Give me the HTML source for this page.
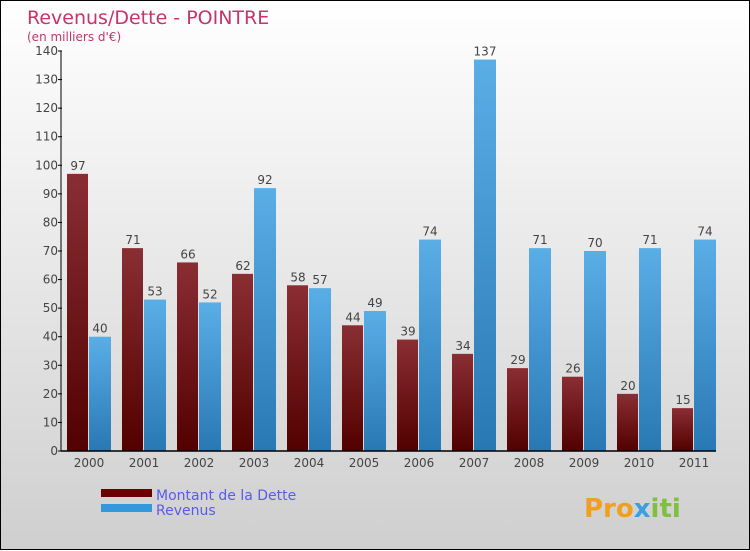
<!DOCTYPE html>
<html><head><meta charset="utf-8"><style>
body{margin:0;width:750px;height:550px;overflow:hidden;font-family:"DejaVu Sans","Liberation Sans",sans-serif;}
#wrap{position:relative;width:748px;height:548px;border:1px solid #000;background:linear-gradient(#ffffff,#cfcfcf);}
svg{position:absolute;left:0;top:0}
</style></head><body>
<div id="wrap">
<svg id="chart" width="750" height="550">
<defs>
<linearGradient id="gd" x1="0" y1="0" x2="0" y2="1"><stop offset="0" stop-color="#8a2e33"/><stop offset="1" stop-color="#520000"/></linearGradient>
<linearGradient id="gr" x1="0" y1="0" x2="0" y2="1"><stop offset="0" stop-color="#5aaee6"/><stop offset="1" stop-color="#2878b4"/></linearGradient>
</defs>
<text x="26" y="23" font-size="19" fill="#c8336a">Revenus/Dette - POINTRE</text>
<text x="26" y="40" font-size="12" fill="#c8336a">(en milliers d'€)</text>
<g id="bars"></g><g id="axes"></g>
<rect x="100" y="488" width="51" height="8" fill="#6a0000"/>
<rect x="100" y="503" width="51" height="8" fill="#3498dc"/>
<text x="155" y="499" font-size="14" fill="#5a5af0">Montant de la Dette</text>
<text x="155" y="514" font-size="14" fill="#5a5af0">Revenus</text>
<text x="583" y="516" font-size="26" font-weight="bold" fill="#f0a020">Pro<tspan fill="#3aa0e0">x</tspan><tspan fill="#80c040">iti</tspan></text>
</svg></div>
<script>
const years=["2000","2001","2002","2003","2004","2005","2006","2007","2008","2009","2010","2011"];
const dette=[97,71,66,62,58,44,39,34,29,26,20,15];
const revenus=[40,53,52,92,57,49,74,137,71,70,71,74];
const ticks=[0,10,20,30,40,50,60,70,80,90,100,110,120,130,140];
const NS="http://www.w3.org/2000/svg";
const y0=450,ppu=400/140,x0=66,step=55,bw=22;
const Y=v=>y0-v*ppu;
function mk(t,a,p){const e=document.createElementNS(NS,t);for(const k in a)e.setAttribute(k,a[k]);p.appendChild(e);return e;}
const bars=document.getElementById('bars'),axes=document.getElementById('axes');
years.forEach((yr,i)=>{
  const xd=x0+i*step,xr=xd+bw;
  let r=mk('rect',{x:xd,y:Y(dette[i]),width:bw-1,height:dette[i]*ppu,fill:'url(#gd)'},bars);
  
  
  let r2=mk('rect',{x:xr,y:Y(revenus[i]),width:bw,height:revenus[i]*ppu,fill:'url(#gr)'},bars);
  
  
  let t=mk('text',{x:xd+bw/2,y:Y(dette[i])-4,'font-size':12,fill:'#444','text-anchor':'middle'},bars);t.textContent=dette[i];
  
  
  let t2=mk('text',{x:xr+bw/2,y:Y(revenus[i])-4,'font-size':12,fill:'#444','text-anchor':'middle'},bars);t2.textContent=revenus[i];
  
  
  let xl=mk('text',{x:xd+bw,y:466,'font-size':12,fill:'#444','text-anchor':'middle'},axes);xl.textContent=yr;
  
  
});
let ya=mk('line',{x1:60,y1:50,x2:60,y2:450,stroke:'#000','stroke-width':1},axes);


let xa=mk('line',{x1:60,y1:450,x2:715,y2:450,stroke:'#000','stroke-width':1.5},axes);


ticks.forEach(v=>{
  mk('line',{x1:57,y1:Y(v),x2:61,y2:Y(v),stroke:'#000'},axes);
  let t=mk('text',{x:57,y:Y(v)+4,'font-size':12,fill:'#444','text-anchor':'end'},axes);t.textContent=v;
  
  
});
</script>
</body></html>
